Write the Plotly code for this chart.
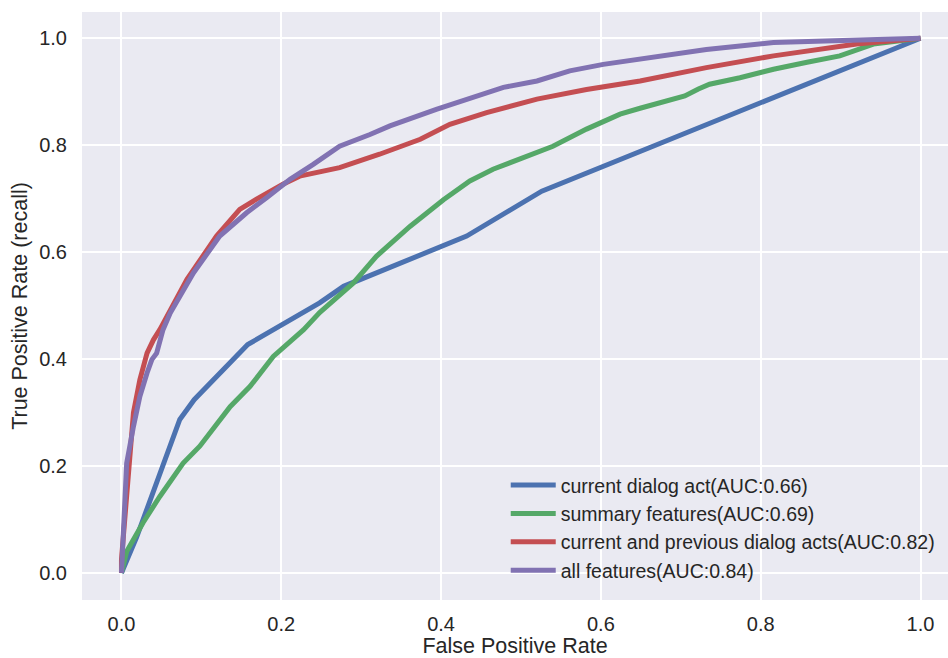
import plotly.graph_objects as go

# ---- data ----
names = [
    "current dialog act(AUC:0.66)",
    "summary features(AUC:0.69)",
    "current and previous dialog acts(AUC:0.82)",
    "all features(AUC:0.84)",
]

fpr_dialog = [0.0, 0.019, 0.073, 0.091, 0.158, 0.248, 0.278, 0.432, 0.526, 1.0]
tpr_dialog = [0.0, 0.067, 0.287, 0.324, 0.427, 0.505, 0.536, 0.630, 0.714, 1.0]

fpr_summary = [0.0, 0.0065, 0.027, 0.048, 0.077, 0.098, 0.136, 0.161, 0.19, 0.228,
               0.248, 0.29, 0.319, 0.361, 0.403, 0.436, 0.465, 0.507, 0.54, 0.582,
               0.624, 0.649, 0.705, 0.722, 0.736, 0.774, 0.816, 0.858, 0.899, 0.941, 1.0]
tpr_summary = [0.0, 0.04, 0.094, 0.143, 0.205, 0.237, 0.311, 0.349, 0.405, 0.455,
               0.487, 0.542, 0.592, 0.648, 0.698, 0.733, 0.755, 0.78, 0.798, 0.83,
               0.858, 0.869, 0.892, 0.905, 0.914, 0.926, 0.942, 0.955, 0.967, 0.989, 1.0]

fpr_prev = [0.0, 0.0, 0.015, 0.023, 0.032, 0.04, 0.048, 0.082, 0.119, 0.14, 0.148,
            0.169, 0.202, 0.223, 0.248, 0.273, 0.323, 0.374, 0.411, 0.457, 0.52,
            0.582, 0.649, 0.732, 0.816, 0.858, 0.92, 1.0]
tpr_prev = [0.0, 0.025, 0.30, 0.361, 0.411, 0.436, 0.455, 0.549, 0.63, 0.667, 0.68,
            0.699, 0.727, 0.742, 0.749, 0.758, 0.783, 0.811, 0.839, 0.861, 0.886,
            0.904, 0.92, 0.945, 0.967, 0.976, 0.989, 1.0]

fpr_all = [0.0, 0.0065, 0.015, 0.023, 0.032, 0.038, 0.044, 0.052, 0.061, 0.09,
           0.123, 0.157, 0.182, 0.211, 0.24, 0.248, 0.273, 0.311, 0.336, 0.394,
           0.445, 0.478, 0.52, 0.561, 0.603, 0.649, 0.732, 0.816, 0.899, 0.983, 1.0]
tpr_all = [0.0, 0.205, 0.274, 0.33, 0.374, 0.399, 0.411, 0.455, 0.486, 0.561,
           0.63, 0.674, 0.702, 0.736, 0.764, 0.772, 0.798, 0.82, 0.836, 0.867,
           0.892, 0.908, 0.92, 0.939, 0.951, 0.961, 0.979, 0.992, 0.996, 1.0, 1.0]

xs = [fpr_dialog, fpr_summary, fpr_prev, fpr_all]
ys = [tpr_dialog, tpr_summary, tpr_prev, tpr_all]
colors = ["#4C72B0", "#55A868", "#C44E52", "#8172B2"]

tick_vals = [0.0, 0.2, 0.4, 0.6, 0.8, 1.0]
tick_text = ["0.0", "0.2", "0.4", "0.6", "0.8", "1.0"]

FONT = "Liberation Sans, Arial, sans-serif"
TXT = "#262626"

fig = go.Figure()
for x, y, n, c in zip(xs, ys, names, colors):
    fig.add_trace(go.Scatter(x=x, y=y, mode="lines", name=n,
                             line=dict(color=c, width=5)))

fig.update_layout(
    width=948, height=658,
    margin=dict(l=82, r=0, t=12, b=58),
    paper_bgcolor="white",
    plot_bgcolor="#EAEAF2",
    font=dict(family=FONT, size=20, color=TXT),
    showlegend=True,
    legend=dict(
        x=0.4893, y=0.228, xanchor="left", yanchor="top",
        bgcolor="rgba(0,0,0,0)", borderwidth=0,
        font=dict(family=FONT, size=19.5, color=TXT),
        itemwidth=45,
        tracegroupgap=0,
    ),
    xaxis=dict(
        range=[-0.0494, 1.0344], tickvals=tick_vals, ticktext=tick_text,
        showgrid=True, gridcolor="white", gridwidth=1.5, zeroline=False,
        showline=False, ticks="", ticklabelstandoff=10,
        tickfont=dict(size=20, color=TXT),
        title=dict(text="False Positive Rate", font=dict(size=21.5, color=TXT), standoff=7),
    ),
    yaxis=dict(
        range=[-0.0506, 1.049], tickvals=tick_vals, ticktext=tick_text,
        showgrid=True, gridcolor="white", gridwidth=1.5, zeroline=False,
        showline=False, ticks="", ticklabelstandoff=14,
        tickfont=dict(size=20, color=TXT),
        title=dict(text="True Positive Rate (recall)", font=dict(size=21.5, color=TXT), standoff=5),
    ),
)

fig.write_html("out.html")
